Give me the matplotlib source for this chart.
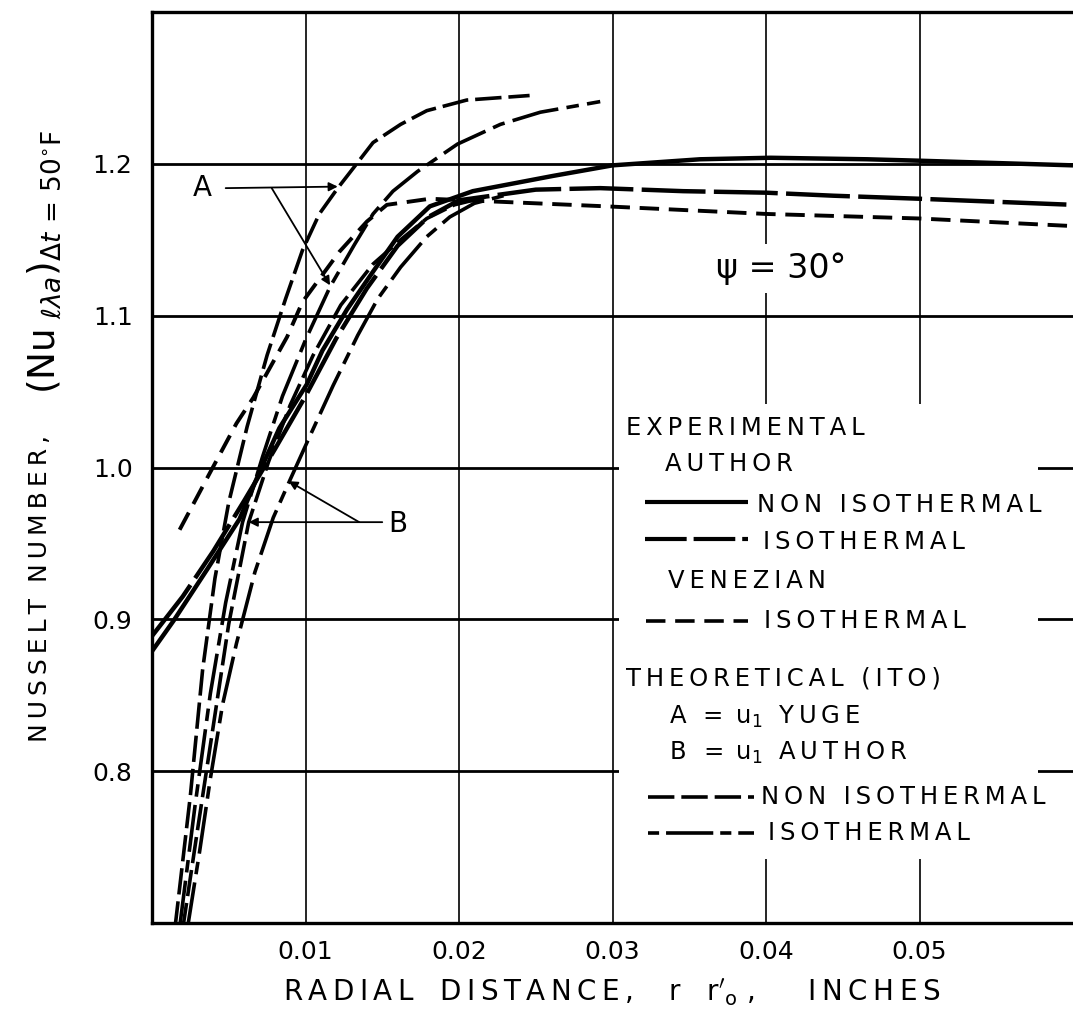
"Nusselt number against radial distance, psi = 30 deg"

import matplotlib.pyplot as plt
from matplotlib.patches import Rectangle

plt.rcParams["font.family"] = ["DejaVu Sans"]
plt.rcParams["lines.scale_dashes"] = False

#####
# Data
#####

# experimental, author, nonisothermal (solid)
exp_noniso_x = [0.0, 0.0014, 0.0036, 0.0057, 0.0070, 0.0083, 0.0101, 0.0111, 0.0127,
                0.0144, 0.0160, 0.0181, 0.0209, 0.0235, 0.0261, 0.0300, 0.0357, 0.0403,
                0.0466, 0.0502, 0.0600]
exp_noniso_y = [0.879, 0.899, 0.933, 0.966, 0.997, 1.026, 1.055, 1.077, 1.104,
                1.129, 1.152, 1.172, 1.182, 1.187, 1.192, 1.199, 1.203, 1.204,
                1.203, 1.202, 1.199]

# experimental, author, isothermal
exp_iso_x = [0.0, 0.002, 0.004, 0.006, 0.008, 0.010, 0.012, 0.014, 0.016, 0.018,
             0.020, 0.025, 0.0292, 0.0346, 0.040, 0.0444, 0.050, 0.060]
exp_iso_y = [0.889, 0.915, 0.945, 0.978, 1.012, 1.047, 1.085, 1.118, 1.146, 1.165,
             1.176, 1.183, 1.184, 1.182, 1.181, 1.179, 1.177, 1.173]

# experimental, Venezian, isothermal
ven_x = [0.0018, 0.0038, 0.0055, 0.0066, 0.0088, 0.0098, 0.0122, 0.0140, 0.0153,
         0.0181, 0.0227, 0.0296, 0.0400, 0.0500, 0.0600]
ven_y = [0.959, 0.997, 1.029, 1.046, 1.086, 1.109, 1.142, 1.162, 1.173,
         1.177, 1.175, 1.172, 1.167, 1.164, 1.159]

# theoretical (Ito), A = u1 Yuge
a_noniso_x = [0.0015, 0.0025, 0.0033, 0.0041, 0.0050, 0.0062, 0.0075, 0.0087, 0.0098,
              0.0109, 0.0121, 0.0131, 0.0144, 0.0162, 0.0179, 0.0205, 0.0246]
a_noniso_y = [0.697, 0.784, 0.867, 0.927, 0.977, 1.027, 1.074, 1.111, 1.143,
              1.167, 1.184, 1.197, 1.214, 1.226, 1.235, 1.242, 1.245]
a_iso_x = [0.0018, 0.0028, 0.0038, 0.0048, 0.0059, 0.0072, 0.0085, 0.0100, 0.0116,
           0.0132, 0.0144, 0.0157, 0.0173, 0.0199, 0.0227, 0.0253, 0.0292]
a_iso_y = [0.697, 0.777, 0.851, 0.911, 0.964, 1.007, 1.047, 1.084, 1.119,
           1.147, 1.167, 1.182, 1.195, 1.213, 1.226, 1.234, 1.241]

# theoretical (Ito), B = u1 author
b_noniso_x = [0.0020, 0.0029, 0.0038, 0.0050, 0.0063, 0.0076, 0.0090, 0.0105, 0.0123,
              0.0144, 0.0162, 0.0179, 0.0197, 0.0217]
b_noniso_y = [0.696, 0.757, 0.817, 0.897, 0.964, 1.004, 1.041, 1.074, 1.107,
              1.134, 1.150, 1.164, 1.173, 1.178]
b_iso_x = [0.0023, 0.0031, 0.0038, 0.0046, 0.0055, 0.0067, 0.0079, 0.0090, 0.0103,
           0.0118, 0.0134, 0.0147, 0.0162, 0.0179, 0.0194, 0.0210, 0.0229]
b_iso_y = [0.696, 0.747, 0.795, 0.844, 0.884, 0.931, 0.967, 0.992, 1.021,
           1.054, 1.087, 1.111, 1.132, 1.152, 1.165, 1.174, 1.179]

x_ticks = [0.01, 0.02, 0.03, 0.04, 0.05]
x_ticklabels = ["0.01", "0.02", "0.03", "0.04", "0.05"]
y_ticks = [0.8, 0.9, 1.0, 1.1, 1.2]
y_ticklabels = ["0.8", "0.9", "1.0", "1.1", "1.2"]

#####
# Styles (dash patterns in points)
#####

EXP_ISO = (46, 6)
VENEZIAN = (14, 7)
THEO_NONISO = (19, 5)
THEO_ISO = (34, 6, 9, 6)


def spaced(text):
    "Spreads lettering with thin spaces"
    return "\u2009".join(text)


def curve(ax, x, y, dashes=None, lw=2.6):
    "Draws one black curve"
    (line,) = ax.plot(x, y, color="black", lw=lw, zorder=3,
                      solid_capstyle="butt", dash_capstyle="butt")
    if dashes is not None:
        line.set_dashes(dashes)
    return line


def note(ax, x, y, text, size=17.5):
    "Left-aligned legend lettering"
    ax.text(x, y, text, fontsize=size, ha="left", va="center", zorder=4)


def arrow(ax, tip, start):
    "Thin pointer line with a small head"
    ax.annotate("", xy=tip, xytext=start, zorder=4,
                arrowprops=dict(arrowstyle="-|>", lw=1.3, color="black",
                                mutation_scale=13, shrinkA=0, shrinkB=0))


#####
# Figure
#####

fig = plt.figure(figsize=(10.73, 10.19), dpi=100)
ax = fig.add_axes([152 / 1073, 1 - 923 / 1019, 921 / 1073, 911 / 1019])
ax.set_xlim(0, 0.06)
ax.set_ylim(0.7, 1.3)

ax.set_xticks(x_ticks, x_ticklabels, fontsize=18)
ax.set_yticks(y_ticks, y_ticklabels, fontsize=18)
ax.tick_params(length=0)
ax.tick_params(axis="x", pad=12)
ax.tick_params(axis="y", pad=14)
ax.set_axisbelow(True)
ax.yaxis.grid(True, color="black", lw=2.0)
ax.xaxis.grid(True, color="black", lw=1.2)
ax.spines["right"].set_visible(False)
for side in ["left", "top", "bottom"]:
    ax.spines[side].set_linewidth(2.4)

# white block behind the legend lettering
ax.add_patch(Rectangle((0.0304, 0.742), 0.0273, 0.300, facecolor="white",
                       edgecolor="none", zorder=1.5))

# curves
curve(ax, exp_noniso_x, exp_noniso_y, lw=3.2)
curve(ax, exp_iso_x, exp_iso_y, EXP_ISO, lw=3.2)
curve(ax, ven_x, ven_y, VENEZIAN, lw=2.8)
curve(ax, a_noniso_x, a_noniso_y, THEO_NONISO)
curve(ax, a_iso_x, a_iso_y, THEO_ISO)
curve(ax, b_noniso_x, b_noniso_y, THEO_NONISO)
curve(ax, b_iso_x, b_iso_y, THEO_ISO)

# A and B pointers
ax.text(0.0033, 1.184, "A", fontsize=20, ha="center", va="center", zorder=4)
arrow(ax, (0.0121, 1.185), (0.0048, 1.184))
arrow(ax, (0.0116, 1.120), (0.0078, 1.184))
ax.text(0.0160, 0.963, "B", fontsize=20, ha="center", va="center", zorder=4)
arrow(ax, (0.0063, 0.964), (0.0150, 0.964))
arrow(ax, (0.0089, 0.991), (0.0135, 0.964))

ax.text(0.0410, 1.131, "\u03c8 = 30\u00b0", fontsize=24, ha="center", va="center",
        zorder=4, bbox=dict(facecolor="white", edgecolor="none", pad=6))

# legend
note(ax, 0.0309, 1.026, spaced("EXPERIMENTAL"))
note(ax, 0.0334, 1.002, spaced("AUTHOR"))
curve(ax, [0.0321, 0.0388], [0.977, 0.977], lw=3.0)
note(ax, 0.0394, 0.975, spaced("NON ISOTHERMAL"))
curve(ax, [0.0321, 0.0388], [0.953, 0.953], (30, 5), lw=3.0)
note(ax, 0.0398, 0.951, spaced("ISOTHERMAL"))
note(ax, 0.0336, 0.925, spaced("VENEZIAN"))
curve(ax, [0.0322, 0.0388], [0.899, 0.899], VENEZIAN, lw=2.6)
note(ax, 0.0399, 0.899, spaced("ISOTHERMAL"))
note(ax, 0.0309, 0.861, spaced("THEORETICAL (ITO)"))
note(ax, 0.0337, 0.836, spaced("A = ") + r"$\mathrm{u_1}$" + "  " + spaced("YUGE"))
note(ax, 0.0337, 0.812, spaced("B = ") + r"$\mathrm{u_1}$" + "  " + spaced("AUTHOR"))
curve(ax, [0.0323, 0.0392], [0.783, 0.783], (19, 5))
note(ax, 0.0397, 0.783, spaced("NON ISOTHERMAL"))
curve(ax, [0.0323, 0.0392], [0.759, 0.759], (8, 5, 34, 5))
note(ax, 0.0401, 0.759, spaced("ISOTHERMAL"))

# axis titles
fig.text(612 / 1073, 1 - 992 / 1019,
         spaced("RADIAL") + "   " + spaced("DISTANCE,") + "    "
         + r"$\mathrm{r}$" + "   " + r"$\mathrm{r'_{o}}$" + " ,      " + spaced("INCHES"),
         fontsize=20, ha="center", va="center")
fig.text(40 / 1073, 1 - 588 / 1019, spaced("NUSSELT") + "  " + spaced("NUMBER,"),
         fontsize=18, ha="center", va="center", rotation=90)
fig.text(44 / 1073, 1 - 262 / 1019,
         r"$(\mathrm{Nu}_{\ \ell\lambda a})_{\Delta t\,=\,50^{\circ}\mathrm{F}}$",
         fontsize=27, ha="center", va="center", rotation=90)

fig.savefig("out.png", dpi=100, facecolor="white")
